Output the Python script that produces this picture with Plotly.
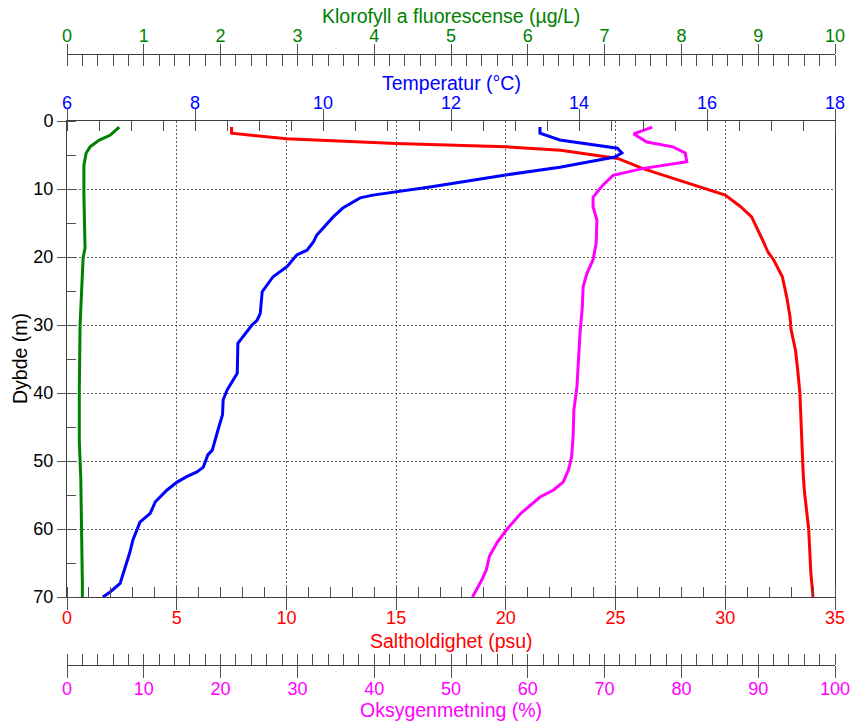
import plotly.graph_objects as go

# ---------------- data ----------------
sal_depth = [0.9, 1.8, 2.6, 3.3, 3.8, 4.3, 5.5, 7.0, 8.0, 9.0, 10.1, 10.9, 12.6, 14.1, 17.5,
             19.3, 20.4, 22.9, 25.9, 28.8, 30.7, 33.7, 36.6, 40.0, 44.0, 49.4, 51.8, 54.3,
             60.0, 66.5, 70.0]
salinity = [7.5, 7.5, 10.0, 15.0, 20.0, 22.5, 25.1, 26.25, 27.2, 28.2, 29.2, 30.0, 30.7,
            31.2, 31.7, 31.95, 32.2, 32.6, 32.8, 32.95, 33.0, 33.2, 33.3, 33.4, 33.45, 33.5,
            33.55, 33.6, 33.8, 33.9, 34.0]

temp_depth = [0.9, 1.8, 2.8, 4.0, 4.7, 5.3, 6.8, 7.9, 9.7, 10.4, 10.9, 11.3, 12.8, 14.1,
              16.8, 17.8, 19.0, 19.7, 21.4, 22.9, 25.1, 28.3, 29.3, 30.0, 32.7, 37.1, 38.1,
              39.6, 41.0, 43.2, 45.4, 48.4, 49.1, 50.9, 51.6, 52.3, 53.1, 54.3, 56.0, 57.7,
              59.0, 61.6, 63.5, 66.5, 68.0, 69.3, 70.0]
temperature = [13.39, 13.39, 13.7, 14.6, 14.67, 14.56, 13.7, 12.88, 11.67, 11.16, 10.78,
               10.58, 10.31, 10.16, 9.9, 9.85, 9.75, 9.59, 9.44, 9.22, 9.05, 9.02, 8.97,
               8.89, 8.67, 8.66, 8.6, 8.5, 8.44, 8.43, 8.36, 8.27, 8.2, 8.13, 8.03, 7.87,
               7.72, 7.56, 7.38, 7.3, 7.14, 7.03, 6.98, 6.88, 6.83, 6.67, 6.56]

oxy_depth = [0.9, 1.9, 3.1, 3.8, 4.7, 6.0, 7.0, 8.0, 9.4, 11.2, 12.6, 14.6, 18.0, 20.4,
             22.4, 24.4, 27.3, 31.2, 35.1, 39.1, 42.5, 46.4, 49.4, 51.3, 53.1, 54.3, 55.3,
             57.7, 60.0, 62.0, 64.0, 66.0, 67.5, 70.0]
oxygen = [76.2, 73.8, 75.5, 78.9, 80.5, 80.7, 74.9, 71.1, 69.8, 68.5, 68.5, 69.0, 68.9,
          68.5, 67.7, 67.2, 67.1, 66.8, 66.6, 66.4, 66.0, 65.9, 65.7, 65.3, 64.6, 63.3,
          61.6, 59.1, 57.3, 56.0, 55.0, 54.6, 54.0, 52.8]

chl_depth = [0.9, 2.1, 2.8, 3.8, 4.7, 6.5, 10.9, 18.7, 20.1, 22.2, 30.0, 40.0, 47.0,
             52.8, 58.0, 68.0, 70.0]
chlorophyll = [0.68, 0.56, 0.42, 0.30, 0.25, 0.22, 0.22, 0.235, 0.21, 0.20, 0.17, 0.16,
               0.16, 0.18, 0.19, 0.20, 0.20]

title_sal = "Saltholdighet (psu)"
title_temp = "Temperatur (°C)"
title_chl = "Klorofyll a fluorescense (µg/L)"
title_oxy = "Oksygenmetning (%)"
title_depth = "Dybde (m)"

# ---------------- styling ----------------
FONT = "Liberation Sans, Arial, sans-serif"
FS = 18
FT = 19.5
RED, BLUE, GREEN, MAG = "#ff0000", "#0000ff", "#008000", "#ff00ff"
AX = "#404040"
TK = "#505050"
GRID = "#606060"
W, H = 853, 722


def py(pix):
    return (H - pix) / H


fig = go.Figure()
fig.add_trace(go.Scatter(x=salinity, y=sal_depth, xaxis="x", yaxis="y", mode="lines",
                         line=dict(color=RED, width=3), name=title_sal))
fig.add_trace(go.Scatter(x=temperature, y=temp_depth, xaxis="x2", yaxis="y", mode="lines",
                         line=dict(color=BLUE, width=3), name=title_temp))
fig.add_trace(go.Scatter(x=chlorophyll, y=chl_depth, xaxis="x3", yaxis="y", mode="lines",
                         line=dict(color=GREEN, width=3), name=title_chl))
fig.add_trace(go.Scatter(x=oxygen, y=oxy_depth, xaxis="x4", yaxis="y", mode="lines",
                         line=dict(color=MAG, width=3), name=title_oxy))

common = dict(showline=True, linecolor=AX, linewidth=1, tickcolor=TK, tickwidth=1,
              automargin=False, zeroline=False, showgrid=False, fixedrange=True)

fig.update_layout(
    width=W, height=H,
    margin=dict(l=67, r=18, t=0, b=0),
    paper_bgcolor="white", plot_bgcolor="white",
    showlegend=False,
    font=dict(family=FONT, size=FS, color="black"),
    xaxis=dict(**{**common, "showgrid": True}, range=[0, 35], tick0=0, dtick=5,
               side="bottom", anchor="y", domain=[0, 1],
               ticks="outside", ticklen=12, ticklabelstandoff=-8,
               minor=dict(dtick=1, ticks="inside", ticklen=10, tickcolor=TK, showgrid=False),
               gridcolor=GRID, griddash="2px,2px", gridwidth=1,
               tickfont=dict(color=RED, size=FS, family=FONT)),
    xaxis2=dict(**common, range=[6, 18], tick0=6, dtick=2, side="top", anchor="y",
                overlaying="x", ticks="outside", ticklen=11, ticklabelstandoff=-7,
                minor=dict(dtick=0.5, ticks="inside", ticklen=10, tickcolor=TK),
                tickfont=dict(color=BLUE, size=FS, family=FONT)),
    xaxis3=dict(**common, range=[0, 10], tick0=0, dtick=1, side="top", anchor="free",
                position=py(53.5), overlaying="x", ticks="outside", ticklen=10,
                ticklabelstandoff=-6,
                minor=dict(dtick=0.2, ticks="inside", ticklen=11, tickcolor=TK),
                tickfont=dict(color=GREEN, size=FS, family=FONT)),
    xaxis4=dict(**common, range=[0, 100], tick0=0, dtick=10, side="bottom", anchor="free",
                position=py(665), overlaying="x", ticks="outside", ticklen=12,
                ticklabelstandoff=-5,
                minor=dict(dtick=2, ticks="inside", ticklen=11, tickcolor=TK),
                tickfont=dict(color=MAG, size=FS, family=FONT)),
    # companions that draw the inner half of the crossing major ticks
    xaxis5=dict(**{**common, "showline": False}, range=[0, 10], tick0=0, dtick=1, side="top",
                anchor="free", position=py(53.5), overlaying="x", ticks="inside",
                ticklen=11, showticklabels=False),
    xaxis6=dict(**{**common, "showline": False}, range=[0, 100], tick0=0, dtick=10,
                side="bottom", anchor="free", position=py(665), overlaying="x",
                ticks="inside", ticklen=11, showticklabels=False),
    yaxis=dict(**{**common, "showgrid": True}, range=[70, 0], tick0=0, dtick=10,
               domain=[py(597), py(121)], anchor="x", mirror=True,
               ticks="outside", ticklen=9,
               minor=dict(dtick=5, ticks="inside", ticklen=9, tickcolor=TK, showgrid=False),
               gridcolor=GRID, griddash="2px,2px", gridwidth=1,
               tickfont=dict(color="black", size=FS, family=FONT)),
)

ann = dict(xref="paper", yref="paper", showarrow=False, xanchor="center", yanchor="middle")
fig.add_annotation(text=title_chl, x=0.5, y=py(16), font=dict(family=FONT, size=FT, color=GREEN), **ann)
fig.add_annotation(text=title_temp, x=0.5, y=py(83), font=dict(family=FONT, size=FT, color=BLUE), **ann)
fig.add_annotation(text=title_sal, x=0.5, y=py(641), font=dict(family=FONT, size=FT, color=RED), **ann)
fig.add_annotation(text=title_oxy, x=0.5, y=py(710), font=dict(family=FONT, size=FT, color=MAG), **ann)
fig.add_annotation(text=title_depth, x=-(67 - 20) / 768, y=py(359), textangle=-90,
                   font=dict(family=FONT, size=FT, color="black"), **ann)

fig.write_html("out.html")
